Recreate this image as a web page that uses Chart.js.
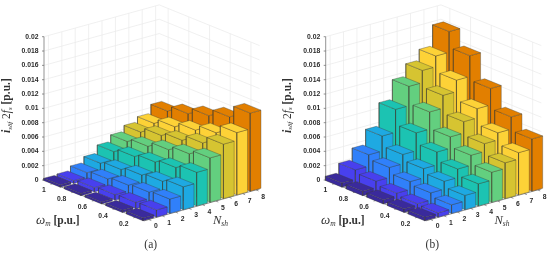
<!DOCTYPE html>
<html>
<head>
<meta charset="utf-8">
<script src="https://cdn.jsdelivr.net/npm/chart.js@4/dist/chart.umd.min.js"></script>
<style>
  html, body { margin: 0; padding: 0; background: #fff; overflow: hidden; }
  canvas { position: absolute; top: 0; }
  #chartA { left: 0; }
  #chartB { left: 275px; }
</style>
</head>
<body>
<canvas id="chartA" width="275" height="253"></canvas>
<canvas id="chartB" width="275" height="253"></canvas>
<script>
const nshTicks = [0, 1, 2, 3, 4, 5, 6, 7, 8];
const omegaTicks = ["1", "0.8", "0.6", "0.4", "0.2"];
const zTicks = [0, 0.002, 0.004, 0.006, 0.008, 0.01, 0.012, 0.014, 0.016, 0.018, 0.02];
const zLabels = ["0", "0.002", "0.004", "0.006", "0.008", "0.01", "0.012", "0.014", "0.016", "0.018", "0.02"];

// one row per Nsh, values left to right are omega 1 ... 0.2
const valuesA = [
  [0.0003, 0.0003, 0.0003, 0.0003, 0.0004],
  [0.0004, 0.0006, 0.0008, 0.0009, 0.001],
  [0.001, 0.0013, 0.0016, 0.0018, 0.002],
  [0.0018, 0.0021, 0.0025, 0.0028, 0.0032],
  [0.0029, 0.0034, 0.0038, 0.0042, 0.0047],
  [0.0038, 0.0043, 0.005, 0.0056, 0.0062],
  [0.0046, 0.0053, 0.0058, 0.0066, 0.0076],
  [0.0053, 0.006, 0.0067, 0.0075, 0.0087],
  [0.0065, 0.0073, 0.0082, 0.0092, 0.0109]
];
const valuesB = [
  [0.0006, 0.0006, 0.0006, 0.0005, 0.0005],
  [0.0019, 0.0015, 0.001, 0.0007, 0.0006],
  [0.0035, 0.0029, 0.0021, 0.0017, 0.0012],
  [0.0056, 0.0042, 0.0034, 0.0028, 0.002],
  [0.0088, 0.0067, 0.0052, 0.004, 0.0031],
  [0.0115, 0.0091, 0.0068, 0.0054, 0.0042],
  [0.0132, 0.0109, 0.0084, 0.0065, 0.005],
  [0.0147, 0.0125, 0.0097, 0.0075, 0.0059],
  [0.0176, 0.0154, 0.012, 0.0092, 0.0073]
];
const rowColors = ["#3a2a9c", "#4840ee", "#3080fa", "#1ea9e2", "#1cc3b2", "#63cf7f", "#d6c431", "#fdd237", "#e27f00"];

// oblique view of the 3d axes, in plot units of each panel
const view = { uN: [13.4, -3.7], uW: [20.7, 8.4], zPerUnit: 7165, n0: 0.33, w0: 0.43, nSpan: 8.6, wSpan: 4.85 };
const barHalf = 0.4;

function project(origin, n, w, z) {
  return {
    x: origin[0] + n * view.uN[0] + w * view.uW[0],
    y: origin[1] + n * view.uN[1] + w * view.uW[1] - z * view.zPerUnit
  };
}

function lineSet(points, color, width) {
  return { data: points, showLine: true, fill: false, borderColor: color, borderWidth: width, pointRadius: 0, tension: 0 };
}

function faceSet(points, color) {
  return { data: points.concat([points[0]]), showLine: true, fill: "shape", backgroundColor: color,
    borderColor: "rgba(60,60,50,0.6)", borderWidth: 0.6, borderJoinStyle: "round", pointRadius: 0, tension: 0 };
}

function buildDatasets(origin, values) {
  const sets = [];
  const P = (n, w, z) => project(origin, n, w, z);
  const zTop = zTicks[zTicks.length - 1];
  const grid = "#e9e9e9";

  // walls and floor
  nshTicks.forEach(function(t, k) {
    const n = view.n0 + k;
    sets.push(lineSet([P(n, 0, 0), P(n, 0, zTop)], grid, 0.7));
    sets.push(lineSet([P(n, 0, 0), P(n, view.wSpan, 0)], grid, 0.7));
  });
  omegaTicks.forEach(function(t, k) {
    const w = view.w0 + k;
    sets.push(lineSet([P(view.nSpan, w, 0), P(view.nSpan, w, zTop)], grid, 0.7));
    sets.push(lineSet([P(0, w, 0), P(view.nSpan, w, 0)], grid, 0.7));
  });
  zTicks.forEach(function(z) {
    sets.push(lineSet([P(0, 0, z), P(view.nSpan, 0, z), P(view.nSpan, view.wSpan, z)], grid, 0.7));
  });

  // axis lines and tick marks
  const axis = "#666666";
  sets.push(lineSet([P(0, 0, 0), P(0, 0, zTop)], axis, 0.7));
  sets.push(lineSet([P(0, 0, 0), P(0, view.wSpan, 0), P(view.nSpan, view.wSpan, 0)], axis, 0.7));
  zTicks.forEach(function(z) {
    const p = P(0, 0, z);
    sets.push(lineSet([p, { x: p.x - 2, y: p.y }], axis, 0.7));
  });
  nshTicks.forEach(function(t, k) {
    sets.push(lineSet([P(view.n0 + k, view.wSpan, 0), P(view.n0 + k, view.wSpan + 0.12, 0)], axis, 0.7));
  });
  omegaTicks.forEach(function(t, k) {
    sets.push(lineSet([P(0, view.w0 + k, 0), P(-0.18, view.w0 + k, 0)], axis, 0.7));
  });

  // bars, back to front
  for (let i = values.length - 1; i >= 0; i--) {
    for (let j = 0; j < values[i].length; j++) {
      const v = values[i][j];
      const n1 = view.n0 + i - barHalf, n2 = view.n0 + i + barHalf;
      const w1 = view.w0 + j - barHalf, w2 = view.w0 + j + barHalf;
      const c = rowColors[i];
      sets.push(faceSet([P(n1, w1, 0), P(n1, w2, 0), P(n1, w2, v), P(n1, w1, v)], c));
      sets.push(faceSet([P(n1, w2, 0), P(n2, w2, 0), P(n2, w2, v), P(n1, w2, v)], c));
      sets.push(faceSet([P(n1, w1, v), P(n1, w2, v), P(n2, w2, v), P(n2, w1, v)], c));
    }
  }
  // chart.js paints the first dataset last
  return sets.reverse();
}

function textPlugin(origin, panel) {
  return {
    id: "axisText",
    afterDraw(chart) {
      const ctx = chart.ctx;
      const sx = v => chart.scales.x.getPixelForValue(v);
      const sy = v => chart.scales.y.getPixelForValue(v);
      ctx.save();
      ctx.fillStyle = "#2b2b2b";
      ctx.textBaseline = "middle";
      ctx.font = "bold 6.8px 'Liberation Sans'";

      ctx.textAlign = "right";
      zLabels.forEach(function(label, k) {
        const p = project(origin, 0, 0, zTicks[k]);
        ctx.fillText(label, sx(p.x - 5.5), sy(p.y));
      });
      omegaTicks.forEach(function(label, k) {
        const p = project(origin, 0, view.w0 + k, 0);
        ctx.fillText(label, sx(p.x - 7.2), sy(p.y + 7));
      });
      ctx.textAlign = "center";
      nshTicks.forEach(function(label, k) {
        const p = project(origin, view.n0 + k, view.wSpan, 0);
        ctx.fillText(String(label), sx(p.x + 7), sy(p.y + 7));
      });

      ctx.fillStyle = "#333333";
      ctx.textAlign = "left";
      ctx.textBaseline = "alphabetic";
      const serif = "'Liberation Serif'";
      rich(ctx, sx(panel.omegaX), sy(224), [
        ["\u03c9", "italic 13px " + serif, 0], ["m", "italic 7.5px " + serif, 1.5], [" [p.u.]", "bold 11.5px " + serif, 0]
      ]);
      rich(ctx, sx(panel.nshX), sy(224), [
        ["N", "italic 12.5px " + serif, 0], ["sh", "italic 7.5px " + serif, 1.5]
      ]);
      ctx.save();
      ctx.translate(sx(panel.zX), sy(133));
      ctx.rotate(-Math.PI / 2);
      rich(ctx, 0, 0, [
        ["i", "italic bold 11.5px " + serif, 0], ["s\u03b4f", "italic 7px " + serif, 1.5],
        [" 2", "11.5px " + serif, 0], ["f", "italic 11.5px " + serif, 0], ["s", "italic 7px " + serif, 1.5],
        [" [p.u.]", "bold 11.5px " + serif, 0]
      ]);
      ctx.restore();

      ctx.textAlign = "center";
      ctx.font = "11.5px " + serif;
      ctx.fillText(panel.name, sx(panel.nameX), sy(248));
      ctx.restore();
    }
  };
}

function rich(ctx, x, y, parts) {
  parts.forEach(function(part) {
    ctx.font = part[1];
    ctx.fillText(part[0], x, y + part[2]);
    x += ctx.measureText(part[0]).width;
  });
}

function renderPanel(id, values, origin, panel) {
  new Chart(document.getElementById(id), {
    type: "scatter",
    data: { datasets: buildDatasets(origin, values) },
    options: {
      responsive: false,
      animation: false,
      layout: { padding: 0 },
      plugins: { legend: { display: false }, tooltip: { enabled: false } },
      scales: {
        x: { type: "linear", min: 0, max: 275, display: false },
        y: { type: "linear", min: 0, max: 253, reverse: true, display: false }
      }
    },
    plugins: [textPlugin(origin, panel)]
  });
}

renderPanel("chartA", valuesA, [44, 180], { name: "(a)", omegaX: 36, nshX: 213, zX: 10, nameX: 150.7 });
renderPanel("chartB", valuesB, [50.7, 180], { name: "(b)", omegaX: 46, nshX: 219.5, zX: 15.5, nameX: 157.3 });
</script>
</body>
</html>
